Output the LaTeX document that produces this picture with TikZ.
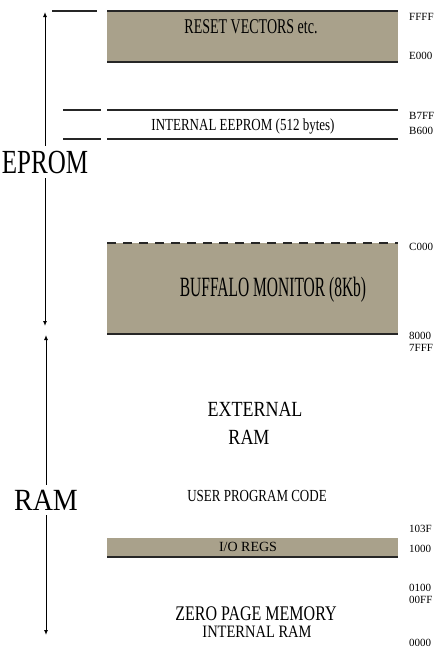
\documentclass[tikz,border=0pt]{standalone}
\usepackage{fontspec}
\setmainfont{Liberation Serif}
\usetikzlibrary{arrows.meta,positioning}
\definecolor{memtan}{RGB}{169,161,139}
\newcommand{\tallish}[2][1.5]{\scalebox{1}[#1]{#2}}

\begin{document}
\begin{tikzpicture}[x=1pt, y=-1pt,
  every node/.style={inner sep=0pt},
  block/.style={fill=memtan},
  edge/.style={line width=1.8pt, black!85},
  rule/.style={line width=1.4pt, black!85},
  addr/.style={font=\fontsize{11}{11}\selectfont, anchor=west},
  region/.style={font=\fontsize{25}{25}\selectfont, outer sep=5pt},
  inside/.style={font=\fontsize{13}{13}\selectfont},
  span/.style={line width=1pt, -{Latex[length=5pt,width=4pt]}}]
  \useasboundingbox (0,0) rectangle (439,651);

  % reset vectors
  \fill[block] (107,11) rectangle (398,62);
  \draw[edge] (107,11) -- (398,11);
  \draw[edge] (107,62) -- (398,62);
  \draw[rule] (52,11) -- (97,11);
  \node[inside, font=\fontsize{14}{14}\selectfont] (reset) at (251,27) {\tallish{RESET VECTORS etc.}};

  % internal eeprom
  \draw[rule] (63,110) -- (101,110);
  \draw[rule] (107,110) -- (398,110);
  \draw[rule] (63,139) -- (101,139);
  \draw[rule] (107,139) -- (398,139);
  \node[inside] (eeprom) at (243,126) {\tallish[1.3]{INTERNAL EEPROM (512 bytes)}};

  % buffalo monitor
  \fill[block] (107,243) rectangle (398,334);
  \draw[edge, dash pattern=on 9pt off 7pt] (107,243) -- (398,243);
  \draw[edge] (107,334) -- (398,334);
  \node[inside, font=\fontsize{15.5}{15.5}\selectfont] (buffalo) at (273,290) {\tallish[1.8]{BUFFALO MONITOR (8Kb)}};

  % external ram
  \node[font=\fontsize{18}{18}\selectfont] (extram) at (255,409) {\tallish[1.2]{EXTERNAL}};
  \node[font=\fontsize{18}{18}\selectfont] (extram2) at (249,437) {\tallish[1.2]{RAM}};
  \node[inside] (user) at (257,496) {\tallish[1.3]{USER PROGRAM CODE}};

  % i/o regs
  \fill[block] (107,538) rectangle (398,557);
  \draw[edge] (107,557) -- (398,557);
  \node[inside, font=\fontsize{14}{14}\selectfont] (ioregs) at (248,547) {I/O REGS};

  % zero page
  \node[inside, font=\fontsize{16}{16}\selectfont] (zpage) at (256,614) {\tallish[1.3]{ZERO PAGE MEMORY}};
  \node[inside, font=\fontsize{14.5}{14.5}\selectfont] (intram) at (257,632) {\tallish[1.2]{INTERNAL RAM}};

  % addresses
  \node[addr] (aFFFF) at (409,17) {FFFF};
  \node[addr] (aE000) at (409,56) {E000};
  \node[addr] (aB7FF) at (409,116) {B7FF};
  \node[addr] (aB600) at (409,131) {B600};
  \node[addr] (aC000) at (409,247) {C000};
  \node[addr] (a8000) at (409,336) {8000};
  \node[addr] (a7FFF) at (409,348) {7FFF};
  \node[addr] (a103F) at (409,529) {103F};
  \node[addr] (a1000) at (409,549) {1000};
  \node[addr] (a0100) at (409,588) {0100};
  \node[addr] (a00FF) at (409,600) {00FF};
  \node[addr] (a0000) at (409,643) {0000};

  % eprom / ram spans
  \node[region] (eprom) at (45,162) {\tallish[1.35]{EPROM}};
  \coordinate (eptop) at (45,12);
  \coordinate (epbot) at (45,326);
  \draw[span] (eprom) -- (eptop);
  \draw[span] (eprom) -- (epbot);
  \node[region, font=\fontsize{28}{28}\selectfont] (ram) at (46,500) {\tallish[1.1]{RAM}};
  \coordinate (ramtop) at (46,335);
  \coordinate (rambot) at (46,635);
  \draw[span] (ram) -- (ramtop);
  \draw[span] (ram) -- (rambot);
\end{tikzpicture}
\end{document}
